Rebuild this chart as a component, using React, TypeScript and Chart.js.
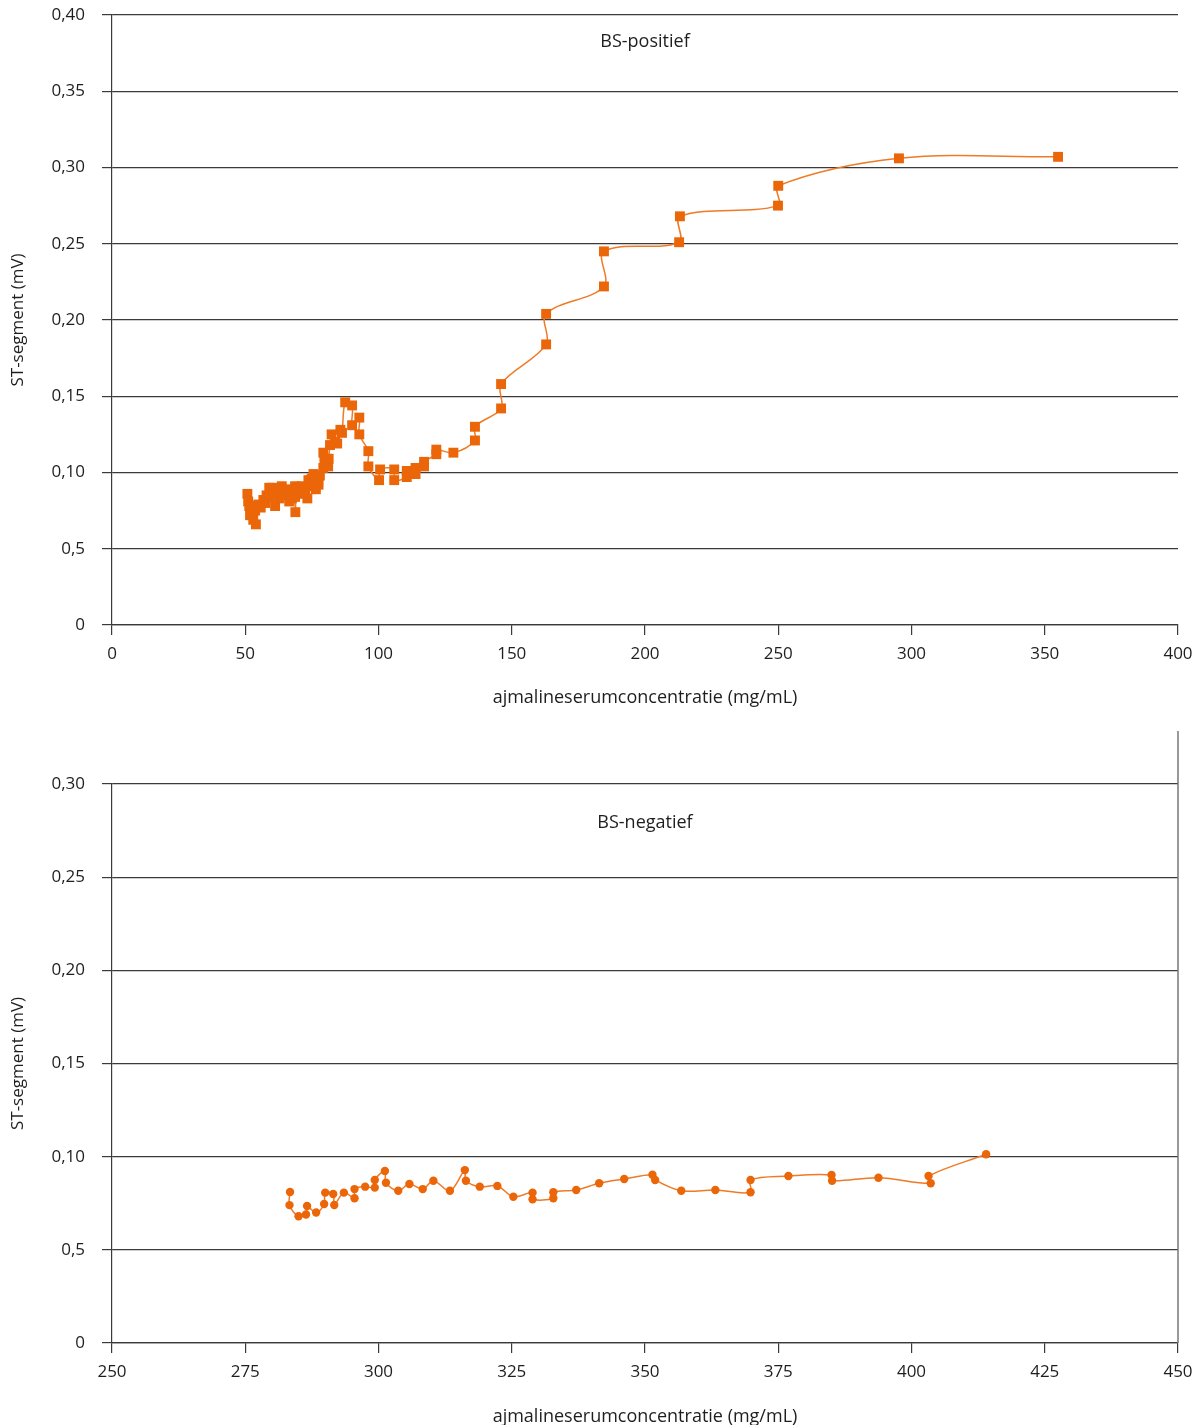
import React, { useEffect, useRef } from "react";
import { Chart, registerables } from "chart.js";

Chart.register(...registerables);

// ---------- Top chart data (BS-positief) ----------
const posX = [
  50.8, 51.1, 51.5, 51.8, 53.0, 53.7, 54.0, 54.9, 55.8, 56.8, 57.5, 58.0, 59.0, 59.0, 60.0, 60.5, 61.2, 62.0, 62.8,
  63.7, 64.9, 65.5, 66.5, 66.8, 67.5, 68.7, 68.8, 68.7, 69.5, 70.5, 71.2, 72.0, 72.5, 73.3, 73.7, 74.0, 74.9, 75.0,
  75.6, 76.0, 76.2, 76.5, 77.4, 77.5, 78.0, 79.3, 79.3, 79.7, 80.6, 81.1, 81.3, 81.8, 82.4, 83.7, 84.5, 85.7, 86.3,
  87.5, 90.1, 90.1, 92.8, 92.8, 96.2, 96.2, 100.2, 100.6, 105.9, 105.9, 110.6, 110.6, 113.9, 113.9, 117.1, 117.1,
  121.7, 121.7, 128.1, 136.2, 136.2, 146.0, 146.0, 162.9, 162.9, 184.6, 184.6, 212.8, 213.1, 249.9, 250.0, 295.3,
  355.0,
];
const posY = [
  0.086, 0.081, 0.078, 0.072, 0.069, 0.075, 0.066, 0.079, 0.077, 0.082, 0.08, 0.085, 0.084, 0.09, 0.087, 0.09, 0.078,
  0.089, 0.083, 0.091, 0.085, 0.088, 0.081, 0.089, 0.083, 0.084, 0.074, 0.091, 0.089, 0.086, 0.091, 0.09, 0.087, 0.083,
  0.095, 0.091, 0.096, 0.093, 0.099, 0.097, 0.093, 0.089, 0.095, 0.092, 0.098, 0.103, 0.113, 0.107, 0.109, 0.104,
  0.109, 0.118, 0.125, 0.12, 0.119, 0.128, 0.126, 0.146, 0.144, 0.131, 0.136, 0.125, 0.114, 0.104, 0.095, 0.102,
  0.102, 0.095, 0.097, 0.101, 0.099, 0.103, 0.104, 0.107, 0.112, 0.115, 0.113, 0.121, 0.13, 0.142, 0.158, 0.184,
  0.204, 0.222, 0.245, 0.251, 0.268, 0.275, 0.288, 0.306, 0.307,
];
const posXTicks = [0, 50, 100, 150, 200, 250, 300, 350, 400];
const posYTicks = [0, 0.05, 0.1, 0.15, 0.2, 0.25, 0.3, 0.35, 0.4];
const posYLabels = ["0", "0,5", "0,10", "0,15", "0,20", "0,25", "0,30", "0,35", "0,40"];

// ---------- Bottom chart data (BS-negatief) ----------
const negX = [
  283.4, 283.3, 285.0, 286.4, 286.6, 288.3, 289.8, 290.0, 291.5, 291.7, 293.5, 295.5, 295.5, 297.5, 299.3, 299.3,
  301.2, 301.4, 303.7, 305.8, 308.3, 310.3, 313.4, 316.2, 316.4, 319.0, 322.3, 325.3, 328.9, 328.9, 332.8, 332.8,
  337.1, 341.4, 346.1, 351.4, 351.9, 356.8, 363.2, 369.8, 369.8, 376.9, 385.0, 385.1, 393.8, 403.6, 403.2, 414.0,
];
const negY = [
  0.081, 0.074, 0.068, 0.069, 0.0735, 0.07, 0.0746, 0.0807, 0.08, 0.0741, 0.0807, 0.0777, 0.0826, 0.0839, 0.0834,
  0.0875, 0.0923, 0.086, 0.0817, 0.0853, 0.0826, 0.0871, 0.0817, 0.0928, 0.0871, 0.0839, 0.0843, 0.0785, 0.0807,
  0.0771, 0.0777, 0.0809, 0.0821, 0.0857, 0.088, 0.0903, 0.0875, 0.0817, 0.0821, 0.0809, 0.0875, 0.0896, 0.0902,
  0.0871, 0.0887, 0.0857, 0.0896, 0.1013,
];
const negXTicks = [250, 275, 300, 325, 350, 375, 400, 425, 450];
const negYTicks = [0, 0.05, 0.1, 0.15, 0.2, 0.25, 0.3];
const negYLabels = ["0", "0,5", "0,10", "0,15", "0,20", "0,25", "0,30"];

const xTitle = "ajmalineserumconcentratie (mg/mL)";
const yTitle = "ST-segment (mV)";

const ORANGE = "#EB6608";
const LINE = "#EF7A25";
const GRID = "#3a3a3a";
const TEXT = "#1e1e1e";
const FONT = "'Open Sans', Roboto, sans-serif";
const FS = 17;

type Cfg = {
  xs: number[];
  ys: number[];
  xTicks: number[];
  yTicks: number[];
  yLabels: string[];
  pointStyle: string;
  pointRadius: number;
  label: string;
  labelOffset: number;
  padTop: number;
  xScaleHeight: number;
  titlePadBottom: number;
  titleLineHeight: number;
  rightLineTop: number | null;
};

function makeChart(canvas: HTMLCanvasElement, c: Cfg) {
  const data = c.xs.map((x, i) => ({ x, y: c.ys[i] }));
  const overlay = {
    id: "overlay",
    afterDraw(chart: any) {
      const { ctx, chartArea } = chart;
      ctx.save();
      ctx.fillStyle = TEXT;
      ctx.font = `18px ${FONT}`;
      ctx.textAlign = "center";
      ctx.textBaseline = "middle";
      ctx.fillText(c.label, (chartArea.left + chartArea.right) / 2, chartArea.top + c.labelOffset);
      if (c.rightLineTop !== null) {
        ctx.strokeStyle = "#777";
        ctx.lineWidth = 1.5;
        ctx.beginPath();
        ctx.moveTo(chartArea.right, c.rightLineTop);
        ctx.lineTo(chartArea.right, chartArea.bottom);
        ctx.stroke();
      }
      ctx.restore();
    },
  };
  return new Chart(canvas, {
    type: "line",
    data: {
      datasets: [
        {
          data,
          borderColor: LINE,
          borderWidth: 1.5,
          backgroundColor: ORANGE,
          pointBackgroundColor: ORANGE,
          pointBorderWidth: 0,
          pointStyle: c.pointStyle as any,
          pointRadius: c.pointRadius,
          tension: 0.35,
          fill: false,
        },
      ],
    },
    options: {
      animation: false,
      responsive: false,
      layout: { padding: { left: 0, right: 22, top: c.padTop, bottom: 0 } },
      plugins: { legend: { display: false }, tooltip: { enabled: false }, title: { display: false } },
      scales: {
        x: {
          type: "linear",
          min: c.xTicks[0],
          max: c.xTicks[c.xTicks.length - 1],
          afterFit: (s: any) => {
            s.height = c.xScaleHeight;
            s.paddingLeft = 0;
            s.paddingRight = 0;
          },
          afterBuildTicks: (s: any) => {
            s.ticks = c.xTicks.map((v) => ({ value: v }));
          },
          grid: {
            drawOnChartArea: false,
            drawTicks: true,
            tickLength: 10,
            color: GRID,
            lineWidth: 1.2,
          },
          border: { display: true, color: GRID, width: 1.2 },
          ticks: {
            color: TEXT,
            font: { size: FS, family: FONT },
            padding: 9,
            maxRotation: 0,
            autoSkip: false,
            callback: (v: any) => String(v),
          },
          title: {
            display: true,
            text: xTitle,
            color: TEXT,
            font: { size: 18, family: FONT, lineHeight: c.titleLineHeight },
            padding: { top: 0, bottom: c.titlePadBottom },
          },
        },
        y: {
          type: "linear",
          min: 0,
          max: c.yTicks[c.yTicks.length - 1],
          afterFit: (s: any) => {
            s.width = 112;
            s.paddingTop = 0;
            s.paddingBottom = 0;
          },
          afterBuildTicks: (s: any) => {
            s.ticks = c.yTicks.map((v) => ({ value: v }));
          },
          grid: {
            drawOnChartArea: true,
            drawTicks: true,
            tickLength: 10,
            color: GRID,
            lineWidth: 1.2,
          },
          border: { display: true, color: GRID, width: 1.2 },
          ticks: {
            color: TEXT,
            font: { size: FS, family: FONT },
            padding: 17,
            autoSkip: false,
            callback: (_v: any, i: number) => c.yLabels[i],
          },
          title: {
            display: true,
            text: yTitle,
            color: TEXT,
            font: { size: FS, family: FONT },
            padding: { top: 8, bottom: 0 },
          },
        },
      },
    },
    plugins: [overlay],
  });
}

export default function App() {
  const topRef = useRef<HTMLCanvasElement>(null);
  const botRef = useRef<HTMLCanvasElement>(null);

  useEffect(() => {
    const a = makeChart(topRef.current!, {
      xs: posX,
      ys: posY,
      xTicks: posXTicks,
      yTicks: posYTicks,
      yLabels: posYLabels,
      pointStyle: "rect",
      pointRadius: 7,
      label: "BS-positief",
      labelOffset: 27,
      padTop: 15,
      xScaleHeight: 95,
      titlePadBottom: 11,
      titleLineHeight: 1.2,
      rightLineTop: null,
    });
    const b = makeChart(botRef.current!, {
      xs: negX,
      ys: negY,
      xTicks: negXTicks,
      yTicks: negYTicks,
      yLabels: negYLabels,
      pointStyle: "circle",
      pointRadius: 4.2,
      label: "BS-negatief",
      labelOffset: 39,
      padTop: 64,
      xScaleHeight: 82,
      titlePadBottom: 0,
      titleLineHeight: 0.95,
      rightLineTop: 11,
    });
    return () => {
      a.destroy();
      b.destroy();
    };
  }, []);

  return (
    <div
      style={{
        position: "absolute",
        left: 0,
        top: 0,
        width: 1200,
        height: 1425,
        background: "#fff",
        overflow: "hidden",
      }}
    >
      <canvas ref={topRef} width={1200} height={720} style={{ position: "absolute", left: 0, top: 0 }} />
      <canvas ref={botRef} width={1200} height={705} style={{ position: "absolute", left: 0, top: 720 }} />
    </div>
  );
}
